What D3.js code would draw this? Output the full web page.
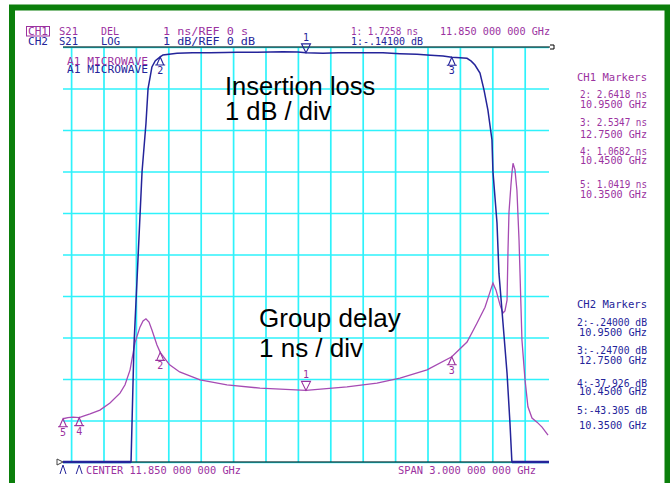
<!DOCTYPE html>
<html>
<head>
<meta charset="utf-8">
<script src="https://cdn.jsdelivr.net/npm/d3@7"></script>
<style>
  body { margin: 0; background: #ffffff; }
  text.mono { font-family: "DejaVu Sans Mono", monospace; font-size: 10.5px; }
  text.big { font-family: "Liberation Sans", Arial, sans-serif; fill: #000; }
</style>
</head>
<body>
<div id="chart"></div>
<script>
// Analyzer trace data read from the screen
// CH2 - insertion loss (S21 LOG), GHz / dB
var freqLoss = [10.35, 10.45, 10.60, 10.70, 10.75, 10.77, 10.788, 10.813, 10.838, 10.862, 10.875, 10.899, 10.92, 10.95,
  10.967, 11.054, 11.15, 11.257, 11.35, 11.424, 11.548, 11.63, 11.708, 11.80, 11.85, 11.955, 12.05, 12.122, 12.22,
  12.325, 12.43, 12.535, 12.62, 12.696, 12.75, 12.80, 12.844, 12.87, 12.893, 12.924, 12.949, 12.973, 12.998, 13.004,
  13.029, 13.041, 13.066, 13.091, 13.109, 13.121, 13.2, 13.35];
var lossDb = [-43.3, -37.9, -28, -20, -14, -10.2, -7.2, -5.1, -3.0, -1.85, -1.0, -0.48, -0.33, -0.24,
  -0.19, -0.152, -0.14, -0.137, -0.13, -0.128, -0.128, -0.12, -0.113, -0.12, -0.141, -0.152, -0.14, -0.137, -0.14,
  -0.137, -0.16, -0.176, -0.2, -0.217, -0.247, -0.26, -0.272, -0.34, -0.434, -0.63, -1.04, -1.52, -2.24, -3.0,
  -4.24, -5.45, -6.65, -7.86, -9.06, -10.1, -22, -32];

// CH1 - group delay (S21 DEL), GHz / ns
var freqDelay = [10.35, 10.38, 10.412, 10.45, 10.48, 10.517, 10.578, 10.64, 10.702, 10.733, 10.764, 10.794, 10.825,
  10.844, 10.862, 10.881, 10.899, 10.93, 10.95, 11.008, 11.07, 11.196, 11.362, 11.566, 11.85, 12.103, 12.288, 12.43,
  12.597, 12.75, 12.844, 12.906, 12.955, 12.986, 13.004, 13.023, 13.048, 13.066, 13.078, 13.091, 13.097, 13.103,
  13.115, 13.121, 13.128, 13.14, 13.152, 13.165, 13.171, 13.183, 13.202, 13.22, 13.245, 13.276, 13.307, 13.344];
var delayNs = [1.042, 1.07, 1.08, 1.068, 1.11, 1.16, 1.25, 1.42, 1.66, 1.86, 2.22, 2.87, 3.25,
  3.40, 3.45, 3.37, 3.18, 2.82, 2.642, 2.34, 2.17, 1.98, 1.86, 1.78, 1.7258, 1.81, 1.90, 2.02,
  2.22, 2.5347, 2.89, 3.35, 3.73, 4.10, 4.31, 4.14, 3.78, 3.59, 3.64, 3.90, 5.11, 6.02,
  6.67, 6.96, 7.20, 7.04, 6.55, 5.35, 4.55, 2.94, 1.98, 1.33, 1.06, 0.96, 0.84, 0.65];

// markers
var markerIds = ["1", "2", "3", "4", "5"];
var markerFreq = [11.85, 10.95, 12.75, 10.45, 10.35];
var markerDelay = [1.7258, 2.6418, 2.5347, 1.0682, 1.0419];
var markerLoss = [-0.141, -0.24, -0.247, -37.926, -43.305];

// screen texts
var ch1List = ["2: 2.6418 ns", "10.9500 GHz", "3: 2.5347 ns", "12.7500 GHz", "4: 1.0682 ns", "10.4500 GHz", "5: 1.0419 ns", "10.3500 GHz"];
var ch2List = ["2:-.24000 dB", "10.9500 GHz", "3:-.24700 dB", "12.7500 GHz", "4:-37.926 dB", "10.4500 GHz", "5:-43.305 dB", "10.3500 GHz"];
var headRow1 = ["CH1", "S21", "DEL", "1 ns/REF 0 s"];
var headRow2 = ["CH2", "S21", "LOG", "1 dB/REF 0 dB"];

var purple = "#9b329f";
var blue = "#24249a";
var cyan = "#2ef2fb";

var svgWidth = 670;
var svgHeight = 483;
var plot = { left: 63, right: 549, top: 47, bottom: 462 };

var svg = d3.select("#chart")
  .append("svg")
  .attr("width", svgWidth)
  .attr("height", svgHeight);

// green frame of the screenshot
svg.append("rect")
  .attr("x", 12).attr("y", 7.5)
  .attr("width", 655.5).attr("height", 500)
  .attr("fill", "none")
  .attr("stroke", "#0b7f0b")
  .attr("stroke-width", 6);

// scales, 10 divisions each way
var xScale = d3.scaleLinear().domain([10.35, 13.35]).range([plot.left, plot.right]);
var yDb = d3.scaleLinear().domain([-10, 0]).range([plot.bottom, plot.top]).clamp(true);
var yNs = d3.scaleLinear().domain([0, 10]).range([plot.bottom, plot.top]);

// grid from axes
svg.append("g")
  .attr("transform", `translate(0, ${plot.bottom})`)
  .call(d3.axisBottom(xScale).ticks(10).tickSize(-(plot.bottom - plot.top)).tickFormat(""));
svg.append("g")
  .attr("transform", `translate(${plot.left}, 0)`)
  .call(d3.axisLeft(yDb).ticks(10).tickSize(-(plot.right - plot.left)).tickFormat(""));
svg.selectAll(".domain").remove();
svg.selectAll(".tick line").attr("stroke", cyan).attr("stroke-width", 1.7);

// top and bottom frame lines
svg.append("line").attr("x1", plot.left).attr("x2", plot.right + 1)
  .attr("y1", plot.top).attr("y2", plot.top).attr("stroke", "#000").attr("stroke-width", 1.2);
svg.append("line").attr("x1", plot.left).attr("x2", plot.right)
  .attr("y1", plot.bottom).attr("y2", plot.bottom).attr("stroke", "#000").attr("stroke-width", 1.2);
// reference markers
svg.append("path").attr("d", `M${plot.right + 1},${plot.top - 2}h4v4h-4`)
  .attr("fill", "none").attr("stroke", "#000").attr("stroke-width", 1);
svg.append("path").attr("d", `M${plot.left - 6},${plot.bottom - 3}l6,3l-6,3z`)
  .attr("fill", "none").attr("stroke", "#444").attr("stroke-width", 1);

// traces
var lossLine = d3.line().x(d => xScale(d[0])).y(d => yDb(d[1]));
var delayLine = d3.line().x(d => xScale(d[0])).y(d => yNs(d[1]));

svg.append("path")
  .datum(d3.zip(freqDelay, delayNs))
  .attr("d", delayLine)
  .attr("fill", "none")
  .attr("stroke", "#a64bb3")
  .attr("stroke-width", 1.3);

svg.append("path")
  .datum(d3.zip(freqLoss, lossDb))
  .attr("d", lossLine)
  .attr("fill", "none")
  .attr("stroke", blue)
  .attr("stroke-width", 1.5);
// clipped part along the bottom is drawn heavier
svg.append("path")
  .datum(d3.zip(freqLoss, lossDb).filter(d => d[1] <= -10))
  .attr("d", d => `M${xScale(d[0][0])},${plot.bottom}H${xScale(10.769)}M${xScale(13.121)},${plot.bottom}H${plot.right}`)
  .attr("stroke", blue).attr("stroke-width", 2.5);

// marker symbols
function marker(x, y, id, color, down) {
  var g = svg.append("g").attr("stroke", color).attr("fill", "none").attr("stroke-width", 1.1);
  if (down) {
    g.append("path").attr("d", `M${x},${y}l-4.5,-9h9z`);
    svg.append("text").attr("class", "mono").attr("x", x).attr("y", y - 12)
      .attr("text-anchor", "middle").attr("fill", color).style("font-size", "10px").text(id);
  } else {
    g.append("path").attr("d", `M${x},${y}l-3.5,8h7z M${x - 5},${y + 8}h10`);
    svg.append("text").attr("class", "mono").attr("x", x).attr("y", y + 17)
      .attr("text-anchor", "middle").attr("fill", color).style("font-size", "10px").text(id);
  }
}
markerIds.forEach(function(id, i) {
  var x = xScale(markerFreq[i]);
  marker(x, yNs(markerDelay[i]), id, purple, i === 0);
  if (markerLoss[i] >= -10) {
    marker(x, yDb(markerLoss[i]), id, blue, i === 0);
  } else {
    // off-scale marker shown as a caret below the grid
    svg.append("path").attr("d", `M${x - 3},${plot.bottom + 12}L${x},${plot.bottom + 3}L${x + 3},${plot.bottom + 12}`)
      .attr("fill", "none").attr("stroke", blue).attr("stroke-width", 1);
  }
});

// monospace screen text
function mono(x, y, str, color, len, anchor) {
  var t = svg.append("text").attr("class", "mono")
    .attr("x", x).attr("y", y).attr("fill", color).text(str);
  if (len) t.attr("textLength", len).attr("lengthAdjust", "spacingAndGlyphs");
  if (anchor) t.attr("text-anchor", anchor);
  return t;
}

var headX = [28, 59, 101, 163];
var headW1 = [20, 19, 18, 85];
var headW2 = [20, 19, 19, 92];
headRow1.forEach((s, i) => mono(headX[i], 35, s, purple, headW1[i]));
headRow2.forEach((s, i) => mono(headX[i], 44.5, s, blue, headW2[i]));
svg.append("rect").attr("x", 26.5).attr("y", 26.5).attr("width", 23).attr("height", 9.5)
  .attr("fill", "none").attr("stroke", purple).attr("stroke-width", 1);

mono(351, 35, "1: " + markerDelay[0].toFixed(4) + " ns", purple, 67);
mono(440, 35, "11.850 000 000 GHz", purple, 110);
mono(351, 44.5, "1:-.14100 dB", blue, 72);

mono(67, 64.5, "A1 MICROWAVE", purple, 81);
mono(67, 73, "A1 MICROWAVE", blue, 81);

mono(577, 81, "CH1 Markers", purple, 70);
var ch1Y = [97.5, 108, 126, 138, 155, 164, 188, 198];
ch1List.forEach((s, i) => mono(580, ch1Y[i], s, purple, 67));

mono(577, 308, "CH2 Markers", blue, 70);
var ch2Y = [326, 336, 353.5, 363.5, 387, 395, 413.5, 428.5];
ch2List.forEach((s, i) => mono(i % 2 ? 579 : 577, ch2Y[i], s, blue, i % 2 ? 68 : 70));

mono(86, 473.5, "CENTER 11.850 000 000 GHz", purple, 155);
mono(398, 473.5, "SPAN 3.000 000 000 GHz", purple, 138);

// annotations
svg.append("text").attr("class", "big").attr("x", 225).attr("y", 95).style("font-size", "25.5px").text("Insertion loss");
svg.append("text").attr("class", "big").attr("x", 225).attr("y", 120).style("font-size", "25.5px").text("1 dB / div");
svg.append("text").attr("class", "big").attr("x", 259).attr("y", 327).style("font-size", "26px").text("Group delay");
svg.append("text").attr("class", "big").attr("x", 259).attr("y", 357).style("font-size", "26px").text("1 ns / div");
</script>
</body>
</html>
